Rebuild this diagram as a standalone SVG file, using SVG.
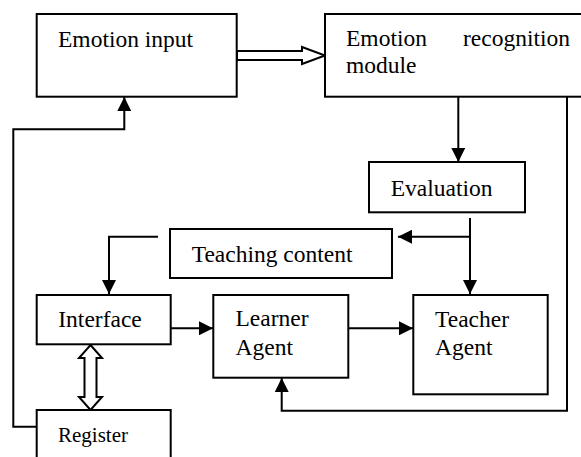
<svg xmlns="http://www.w3.org/2000/svg" width="581" height="457" viewBox="0 0 581 457">
<defs>
<marker id="ah" viewBox="0 0 14 14" refX="14" refY="7" markerWidth="14" markerHeight="14" markerUnits="userSpaceOnUse" orient="auto">
<path d="M0,0 L14,7 L0,14 Z" fill="#000"/>
</marker>
<style>
.box{fill:#fff;stroke:#000;stroke-width:2}
.t{font-family:"Liberation Serif","Times New Roman",serif;font-size:23.5px;fill:#000}
.s{font-family:"Liberation Serif","Times New Roman",serif;font-size:21px;fill:#000}
.c{fill:none;stroke:#000;stroke-width:2}
.ca{fill:none;stroke:#000;stroke-width:2;marker-end:url(#ah)}
.h{fill:#fff;stroke:#000;stroke-width:2;stroke-linejoin:miter}
</style>
</defs>
<g id="connectors">
<path class="h" d="M237,51 L302,51 L302,47 L325,55.5 L302,64 L302,60 L237,60 Z"/>
<path class="h" d="M90.5,345 L102,358 L96.5,358 L96.5,397 L102,397 L90.5,410 L79,397 L84.5,397 L84.5,358 L79,358 Z"/>
<path class="ca" d="M458.3,97 L458.3,162"/>
<path class="ca" d="M470,218 L470,294"/>
<path class="ca" d="M470,236.7 L398,236.7"/>
<path class="ca" d="M158,236.7 L109,236.7 L109,294"/>
<path class="ca" d="M171,328.3 L213,328.3"/>
<path class="ca" d="M348,328.3 L413,328.3"/>
<path class="ca" d="M567,97 L567,410.7 L281.7,410.7 L281.7,378"/>
<path class="ca" d="M36.7,426.7 L13.3,426.7 L13.3,129.3 L124.3,129.3 L124.3,97"/>
</g>
<g id="emotion-input">
<rect class="box" x="36.7" y="14" width="200" height="82.7"/>
<text class="t" x="58" y="46.5">Emotion input</text>
</g>
<g id="emotion-recognition">
<rect class="box" x="325" y="14" width="270" height="82.7"/>
<text class="t" x="346" y="46">Emotion</text>
<text class="t" x="570" y="46" text-anchor="end">recognition</text>
<text class="t" x="346" y="73">module</text>
</g>
<g id="evaluation">
<rect class="box" x="369" y="162" width="156" height="50.3"/>
<text class="t" x="390.7" y="195.5">Evaluation</text>
</g>
<g id="teaching-content">
<rect class="box" x="170" y="229" width="222" height="49"/>
<text class="t" x="191.7" y="262">Teaching content</text>
</g>
<g id="interface">
<rect class="box" x="36.7" y="295" width="134" height="49.3"/>
<text class="t" x="58.3" y="326.7">Interface</text>
</g>
<g id="learner-agent">
<rect class="box" x="213.3" y="295" width="135" height="82.7"/>
<text class="t" x="235.5" y="326">Learner</text>
<text class="t" x="235.5" y="355">Agent</text>
</g>
<g id="teacher-agent">
<rect class="box" x="413.3" y="295" width="134.4" height="99.3"/>
<text class="t" x="435" y="326.7">Teacher</text>
<text class="t" x="435" y="355">Agent</text>
</g>
<g id="register">
<rect class="box" x="36.7" y="410" width="134" height="60"/>
<text class="s" x="58" y="441.7">Register</text>
</g>
</svg>
